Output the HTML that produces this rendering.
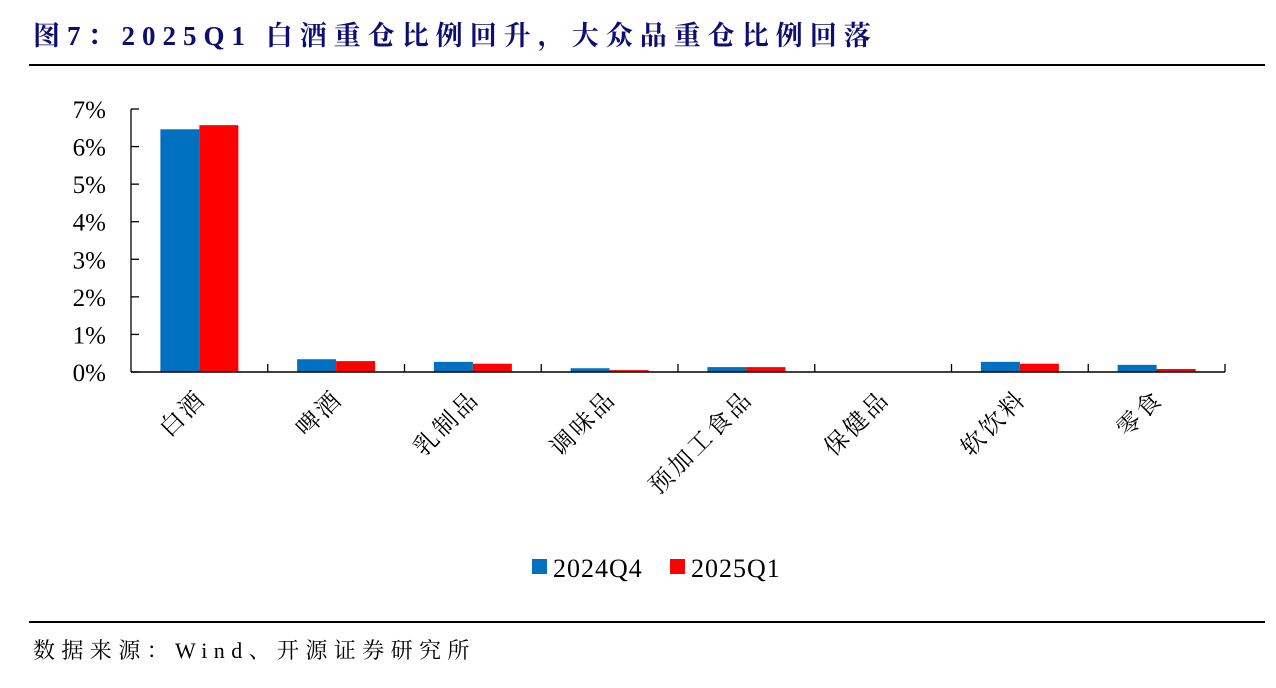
<!DOCTYPE html>
<html><head><meta charset="utf-8"><style>
body{margin:0;width:1276px;height:688px;background:#fff;overflow:hidden;position:relative;font-family:"Liberation Serif","Noto Serif CJK SC",serif}
.t{position:absolute;left:33px;top:14px;font-size:27px;font-weight:bold;color:#0d0d73;white-space:nowrap;letter-spacing:7px}
.ln{position:absolute;left:29px;width:1236px;height:2px;background:#000}
.src{position:absolute;left:33px;top:634px;font-size:22px;color:#000;white-space:nowrap;letter-spacing:6.4px}
</style></head><body>
<div class="t">图7：2025Q1 白酒重仓比例回升，大众品重仓比例回落</div>
<div class="ln" style="top:64px"></div>
<div class="ln" style="top:621px"></div>
<div class="src">数据来源：Wind、开源证券研究所</div>
<svg id="c" width="1276" height="688" style="position:absolute;left:0;top:0"></svg>
<script>
const categories=["白酒","啤酒","乳制品","调味品","预加工食品","保健品","软饮料","零食"];
const series2024Q4=[6.46,0.34,0.27,0.10,0.13,0,0.27,0.19];
const series2025Q1=[6.57,0.29,0.22,0.05,0.13,0,0.22,0.08];
const yTicks=[0,1,2,3,4,5,6,7];
const seriesNames=["2024Q4","2025Q1"];
const colors=["#0070c0","#ff0000"];
const svg=document.getElementById('c');
const NS="http://www.w3.org/2000/svg";
const x0=131,x1=1225,yTop=109,yBot=372,yMax=7;
const y=v=>yBot-(v/yMax)*(yBot-yTop);
const bw=(x1-x0)/categories.length;
const xC=i=>x0+bw*(i+0.5);
function mk(t,a){const e=document.createElementNS(NS,t);for(const k in a)e.setAttribute(k,a[k]);svg.appendChild(e);return e;}
let e;
e=mk('line',{x1:x0,y1:yTop,x2:x0,y2:yBot,stroke:'#000','stroke-width':1.3});


yTicks.forEach(v=>{
 const l=mk('line',{x1:x0,y1:y(v),x2:x0+8,y2:y(v),stroke:'#000','stroke-width':1.3});
 
 
 const t=mk('text',{x:106,y:y(v)+9,'font-size':25,'text-anchor':'end','font-family':'Liberation Serif, serif'});
 t.textContent=v+'%';
 
 
});
categories.forEach((c,i)=>{
 const vals=[series2024Q4[i],series2025Q1[i]];
 vals.forEach((v,s)=>{
  const r=mk('rect',{x:xC(i)-39+s*39,y:y(v),width:39,height:yBot-y(v),fill:colors[s]});
  
  
 });
 const tk=mk('line',{x1:x0+bw*(i+1),y1:yBot,x2:x0+bw*(i+1),y2:yBot-8,stroke:'#000','stroke-width':1.3});
 
 
 const cx=xC(i)+8,cy=400;
 const t=mk('text',{x:cx,y:cy,'font-size':24,'letter-spacing':3,'text-anchor':'end',transform:`rotate(-45 ${cx} ${cy})`,'font-family':'Noto Serif CJK SC, serif'});
 t.textContent=c;
 
 
});
e=mk('line',{x1:x0,y1:yBot,x2:x1,y2:yBot,stroke:'#000','stroke-width':1.5});


const lx=[532,670];
seriesNames.forEach((n,s)=>{
 const r=mk('rect',{x:lx[s],y:559,width:15,height:15,fill:colors[s]});
 
 
 const t=mk('text',{x:lx[s]+21,y:577,'font-size':26,'letter-spacing':1,'font-family':'Liberation Serif, serif'});
 t.textContent=n;
 
 
});
</script>
</body></html>
